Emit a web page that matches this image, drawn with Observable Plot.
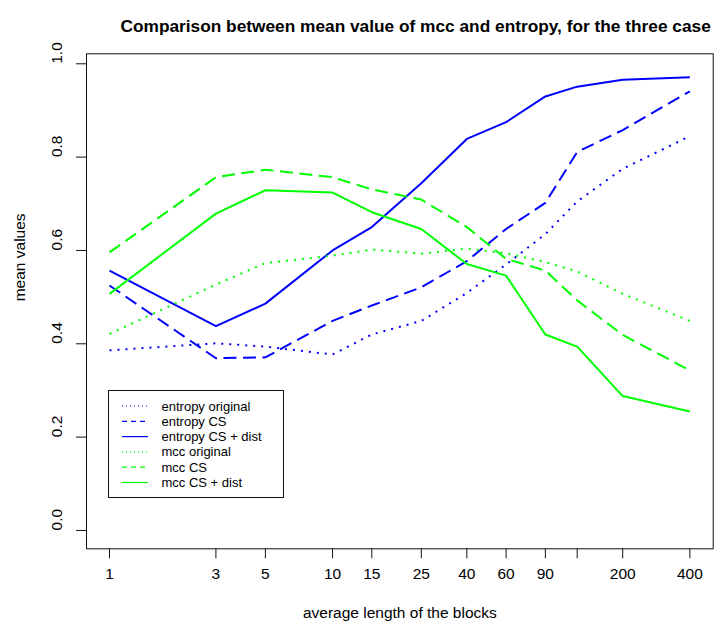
<!DOCTYPE html>
<html><head><meta charset="utf-8">
<script src="https://cdn.jsdelivr.net/npm/d3@7"></script>
<script src="https://cdn.jsdelivr.net/npm/@observablehq/plot@0.6"></script>
<style>body{margin:0;background:#fff;} #chart svg{display:block}</style>
</head><body><div id="chart"></div>
<script>
// ---- data ----
const blockLengths = [1, 3, 5, 10, 15, 25, 40, 60, 90, 125, 200, 400];
const entropyOriginal = [0.386, 0.401, 0.394, 0.377, 0.420, 0.449, 0.509, 0.570, 0.635, 0.705, 0.775, 0.845];
const entropyCS       = [0.525, 0.369, 0.371, 0.449, 0.482, 0.521, 0.577, 0.646, 0.702, 0.811, 0.858, 0.941];
const entropyCSDist   = [0.557, 0.438, 0.486, 0.600, 0.650, 0.744, 0.839, 0.875, 0.930, 0.951, 0.966, 0.971];
const mccOriginal     = [0.421, 0.527, 0.573, 0.589, 0.602, 0.593, 0.604, 0.594, 0.575, 0.555, 0.507, 0.449];
const mccCS           = [0.596, 0.757, 0.773, 0.757, 0.731, 0.709, 0.650, 0.582, 0.557, 0.493, 0.419, 0.343];
const mccCSDist       = [0.507, 0.679, 0.729, 0.724, 0.682, 0.646, 0.571, 0.546, 0.420, 0.394, 0.288, 0.255];
const seriesNames = ["entropy original", "entropy CS", "entropy CS + dist", "mcc original", "mcc CS", "mcc CS + dist"];
const xTicks = [1, 3, 5, 10, 15, 25, 40, 60, 90, 125, 200, 400];
const xTickLabels = ["1", "3", "5", "10", "15", "25", "40", "60", "90", "", "200", "400"];
const yTicks = [0, 0.2, 0.4, 0.6, 0.8, 1.0];
const yTickLabels = ["0.0", "0.2", "0.4", "0.6", "0.8", "1.0"];
const titleText = "Comparison between mean value of mcc and entropy, for the three case";
const xLabel = "average length of the blocks";
const yLabel = "mean values";

// ---- styles ----
const BLUE = "#0000ff", GREEN = "#00ff00";
const DOT = "2,6", DASH = "13,6.5";
const values = [entropyOriginal, entropyCS, entropyCSDist, mccOriginal, mccCS, mccCSDist];
const styles = [
  {color: BLUE, dash: DOT, legendDash: "1,3"},
  {color: BLUE, dash: DASH, legendDash: "5,4"},
  {color: BLUE, dash: null, legendDash: null},
  {color: GREEN, dash: DOT, legendDash: "1,3"},
  {color: GREEN, dash: DASH, legendDash: "5,4"},
  {color: GREEN, dash: null, legendDash: null}
];
const tables = values.map((vals, s) => blockLengths.map((x, i) => ({x, y: vals[i], series: seriesNames[s]})));
const xTickTable = xTicks.map((t, i) => ({t, label: xTickLabels[i]}));
const yTickTable = yTicks.map((t, i) => ({t, label: yTickLabels[i]}));
const FONT = "'Liberation Sans', Arial, Helvetica, sans-serif";

const lineMarks = tables.map((t, s) => Plot.line(t, {
  x: "x", y: "y", stroke: styles[s].color, strokeWidth: 2,
  strokeDasharray: styles[s].dash || undefined, strokeLinecap: "butt", strokeLinejoin: "round"
}));

const chart = Plot.plot({
  width: 716, height: 628,
  marginLeft: 86, marginRight: 3.3, marginTop: 53.3, marginBottom: 79.7,
  style: {fontFamily: FONT, background: "white", color: "black", overflow: "visible"},
  x: {type: "log", domain: [0.7886, 509]},
  y: {domain: [-0.0393, 1.0214]},
  marks: [
    ...lineMarks,
    Plot.frame({stroke: "#111", strokeWidth: 1}),
    Plot.axisX({ticks: xTicks, tickSize: 10, tickFormat: () => "", label: null, stroke: "#111"}),
    Plot.axisY({ticks: yTicks, tickSize: 10, tickFormat: () => "", label: null, stroke: "#111"}),
    Plot.text(xTickTable, {x: "t", text: "label", frameAnchor: "bottom", dy: 30, fontSize: 15.5, fill: "black"}),
    Plot.text(yTickTable, {y: "t", text: "label", frameAnchor: "left", dx: -29,
      rotate: -90, fontSize: 15.5, fill: "black"}),
    Plot.text([yLabel], {text: d => d, frameAnchor: "left", dx: -66, rotate: -90, fontSize: 15.5, fill: "black"}),
    Plot.text([xLabel], {text: d => d, frameAnchor: "bottom", dy: 69, fontSize: 15.5, fill: "black"}),
    Plot.text([titleText], {text: d => d, frameAnchor: "top-left", dx: 34, dy: -34.5, textAnchor: "start",
      fontWeight: "bold", fontSize: 17.3, fill: "black"})
  ]
});
document.getElementById("chart").appendChild(chart);

// ---- legend (inside the plot area, lower left) ----
const svg = d3.select(chart);
const lg = svg.append("g").attr("font-family", FONT).attr("font-size", 13).attr("text-anchor", "start");
lg.append("rect").attr("x", 108.5).attr("y", 390.5).attr("width", 175).attr("height", 107)
  .attr("fill", "white").attr("stroke", "#111").attr("stroke-width", 1);
seriesNames.forEach((name, i) => {
  const yy = 406 + i * 15.3;
  lg.append("line").attr("x1", 122).attr("x2", 148).attr("y1", yy).attr("y2", yy)
    .attr("stroke", styles[i].color).attr("stroke-width", 1.2)
    .attr("stroke-dasharray", styles[i].legendDash);
  lg.append("text").attr("x", 161.5).attr("y", yy).attr("dy", "0.35em")
    .attr("text-anchor", "start").attr("fill", "black").text(name);
});
</script></body></html>
